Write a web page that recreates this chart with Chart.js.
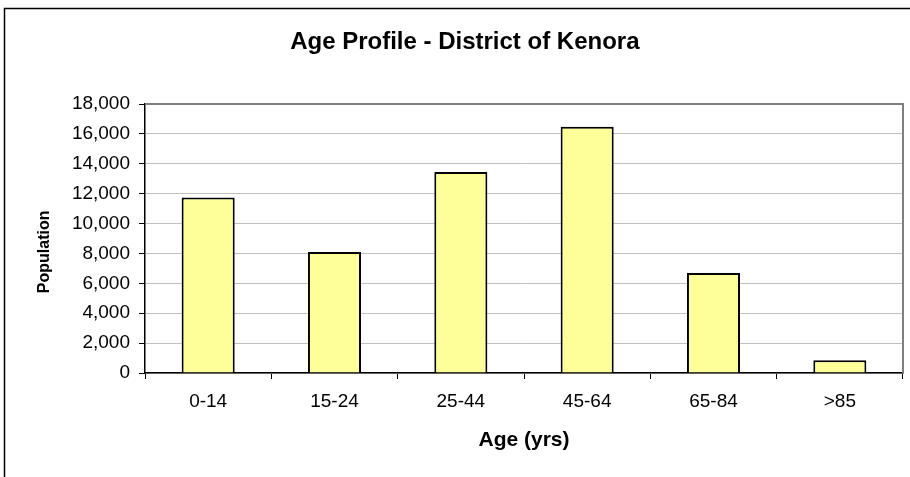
<!DOCTYPE html>
<html>
<head>
<meta charset="utf-8">
<script src="https://cdn.jsdelivr.net/npm/chart.js@4"></script>
<style>
    html, body { margin: 0; padding: 0; background: #fff; }
    #wrap { width: 910px; height: 477px; }
</style>
</head>
<body>
<div id="wrap"><canvas id="ageChart" width="910" height="477"></canvas></div>
<script>

const ageGroups = ['0-14', '15-24', '25-44', '45-64', '65-84', '>85'];
const population = [11750, 8100, 13450, 16470, 6690, 850];

const fontFamily = '"Liberation Sans", Arial, sans-serif';

// outer frame and the grey plot border (top + right)
const frame = {
    id: 'frame',
    beforeDraw(chart) {
        const c = chart.ctx;
        c.save();
        c.strokeStyle = '#000';
        c.lineWidth = 1.5;
        c.beginPath();
        c.moveTo(4.5, 477);
        c.lineTo(4.5, 8.5);
        c.lineTo(910, 8.5);
        c.stroke();
        c.restore();
    },
    afterDatasetsDraw(chart) {
        const a = chart.chartArea;
        const c = chart.ctx;
        c.save();
        c.strokeStyle = '#808080';
        c.lineWidth = 2;
        c.beginPath();
        c.moveTo(a.left, a.top);
        c.lineTo(a.right, a.top);
        c.lineTo(a.right, a.bottom);
        c.stroke();
        c.restore();
    }
};

function chartAge() {

    const ctx = document.getElementById('ageChart');

    new Chart(ctx, {
        type: 'bar',
        data: {
            labels: ageGroups,
            datasets: [{
                label: 'Population',
                data: population,
                backgroundColor: '#FFFF99',
                borderColor: '#000000',
                borderWidth: 2,
                barPercentage: 0.42,
                categoryPercentage: 1.0
            }]
        },
        options: {
            responsive: false,
            animation: false,
            layout: {
                padding: { left: 0, right: 7, top: 0, bottom: 0 }
            },
            plugins: {
                legend: { display: false },
                tooltip: { enabled: false },
                title: {
                    display: true,
                    // leading spaces push the title a bit right, as in the original
                    text: '    Age Profile - District of Kenora',
                    color: '#000',
                    font: { family: fontFamily, size: 24, weight: 'bold' },
                    padding: { top: 27.6, bottom: 47.6 }
                }
            },
            scales: {
                x: {
                    afterFit(scale) { scale.height = 104; },
                    grid: {
                        offset: true,
                        drawOnChartArea: false,
                        drawTicks: true,
                        tickLength: 6,
                        tickColor: '#000'
                    },
                    border: { color: '#000', width: 1.5 },
                    ticks: {
                        color: '#000',
                        padding: 11,
                        font: { family: fontFamily, size: 19 }
                    },
                    title: {
                        display: true,
                        text: 'Age (yrs)',
                        color: '#000',
                        font: { family: fontFamily, size: 21, weight: 'bold' },
                        padding: { top: 0, bottom: 24 }
                    }
                },
                y: {
                    min: 0,
                    max: 18000,
                    afterFit(scale) { scale.width = 145; },
                    grid: {
                        color: '#c0c0c0',
                        lineWidth: 1,
                        tickLength: 6,
                        tickColor: '#000'
                    },
                    border: { color: '#000', width: 1.5 },
                    ticks: {
                        stepSize: 2000,
                        color: '#000',
                        padding: 9,
                        font: { family: fontFamily, size: 19 },
                        callback: v => v.toLocaleString('en-US')
                    },
                    title: {
                        display: true,
                        // trailing spaces nudge the label down a little, like the original
                        text: 'Population      ',
                        color: '#000',
                        font: { family: fontFamily, size: 16, weight: 'bold' },
                        padding: { top: 35, bottom: 0 }
                    }
                }
            }
        },
        plugins: [frame]
    });

}

chartAge();

</script>
</body>
</html>
